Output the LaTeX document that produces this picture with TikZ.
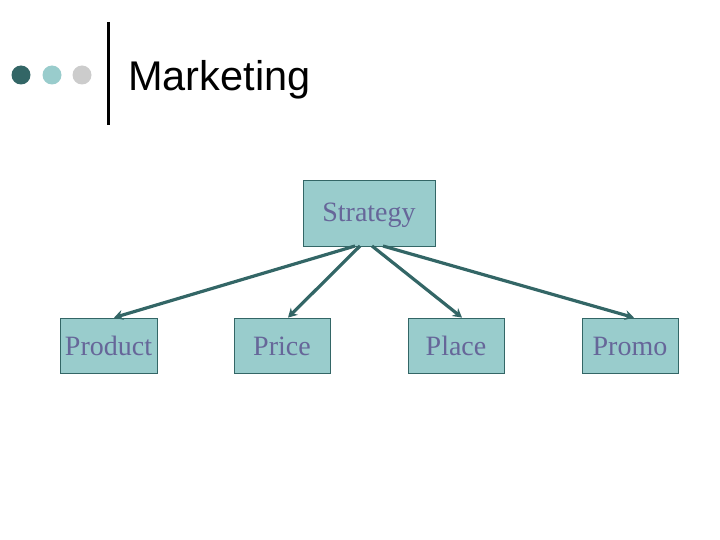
\documentclass[tikz,border=0pt]{standalone}
\usepackage{fontspec}
\setmainfont{Liberation Serif}
\newfontfamily\titlefont{Liberation Sans}
\usetikzlibrary{arrows.meta}
\definecolor{teal1}{HTML}{336666}
\definecolor{teal2}{HTML}{99CCCC}
\definecolor{grey1}{HTML}{CCCCCC}
\definecolor{txt}{HTML}{666699}
\tikzset{
  box/.style={draw=teal1, line width=0.8pt, fill=teal2, text=txt, inner sep=0pt,
    font=\fontsize{28}{32}\selectfont},
  conn/.style={draw=teal1, line width=3.2pt, -{Stealth[length=9pt,width=10pt]}},
  dot/.style={circle, inner sep=0pt, minimum size=19pt}
}
\begin{document}
\begin{tikzpicture}[x=1pt,y=-1pt]
\useasboundingbox (0,0) rectangle (720,540);
\node[dot, fill=teal1] (d1) at (21,75) {};
\node[dot, fill=teal2] (d2) at (52,75) {};
\node[dot, fill=grey1] (d3) at (82,75) {};
\draw[line width=3pt] (108,22) -- (108,125);
\node[anchor=base west, inner sep=0pt, font=\titlefont\fontsize{41.5}{48}\selectfont] (title) at (128,91) {Marketing};
\node[box, minimum width=132pt, minimum height=66pt] (s) at (369,213) {};
\node[anchor=base, text=txt, inner sep=0pt, font=\fontsize{28}{32}\selectfont] (st) at (369,222) {Strategy};
\node[box, minimum width=97pt, minimum height=55pt] (p1) at (108.5,345.5) {};
\node[box, minimum width=96pt, minimum height=55pt] (p2) at (282,345.5) {};
\node[box, minimum width=96pt, minimum height=55pt] (p3) at (456,345.5) {};
\node[box, minimum width=96pt, minimum height=55pt] (p4) at (630,345.5) {};
\node[anchor=base, text=txt, inner sep=0pt, font=\fontsize{28}{32}\selectfont] (t1) at (108.5,355) {Product};
\node[anchor=base, text=txt, inner sep=0pt, font=\fontsize{28}{32}\selectfont] (t2) at (282,355) {Price};
\node[anchor=base, text=txt, inner sep=0pt, font=\fontsize{28}{32}\selectfont] (t3) at (456,355) {Place};
\node[anchor=base, text=txt, inner sep=0pt, font=\fontsize{28}{32}\selectfont] (t4) at (630,355) {Promo};
\coordinate (s1) at (355,246);
\coordinate (s2) at (360,246);
\coordinate (s3) at (372,246);
\coordinate (s4) at (383,246);
\draw[conn] (s1) -- (p1.north -| 114,0);
\draw[conn] (s2) -- (p2.north -| 288,0);
\draw[conn] (s3) -- (p3.north -| 462,0);
\draw[conn] (s4) -- (p4.north -| 634,0);
\end{tikzpicture}
\end{document}
